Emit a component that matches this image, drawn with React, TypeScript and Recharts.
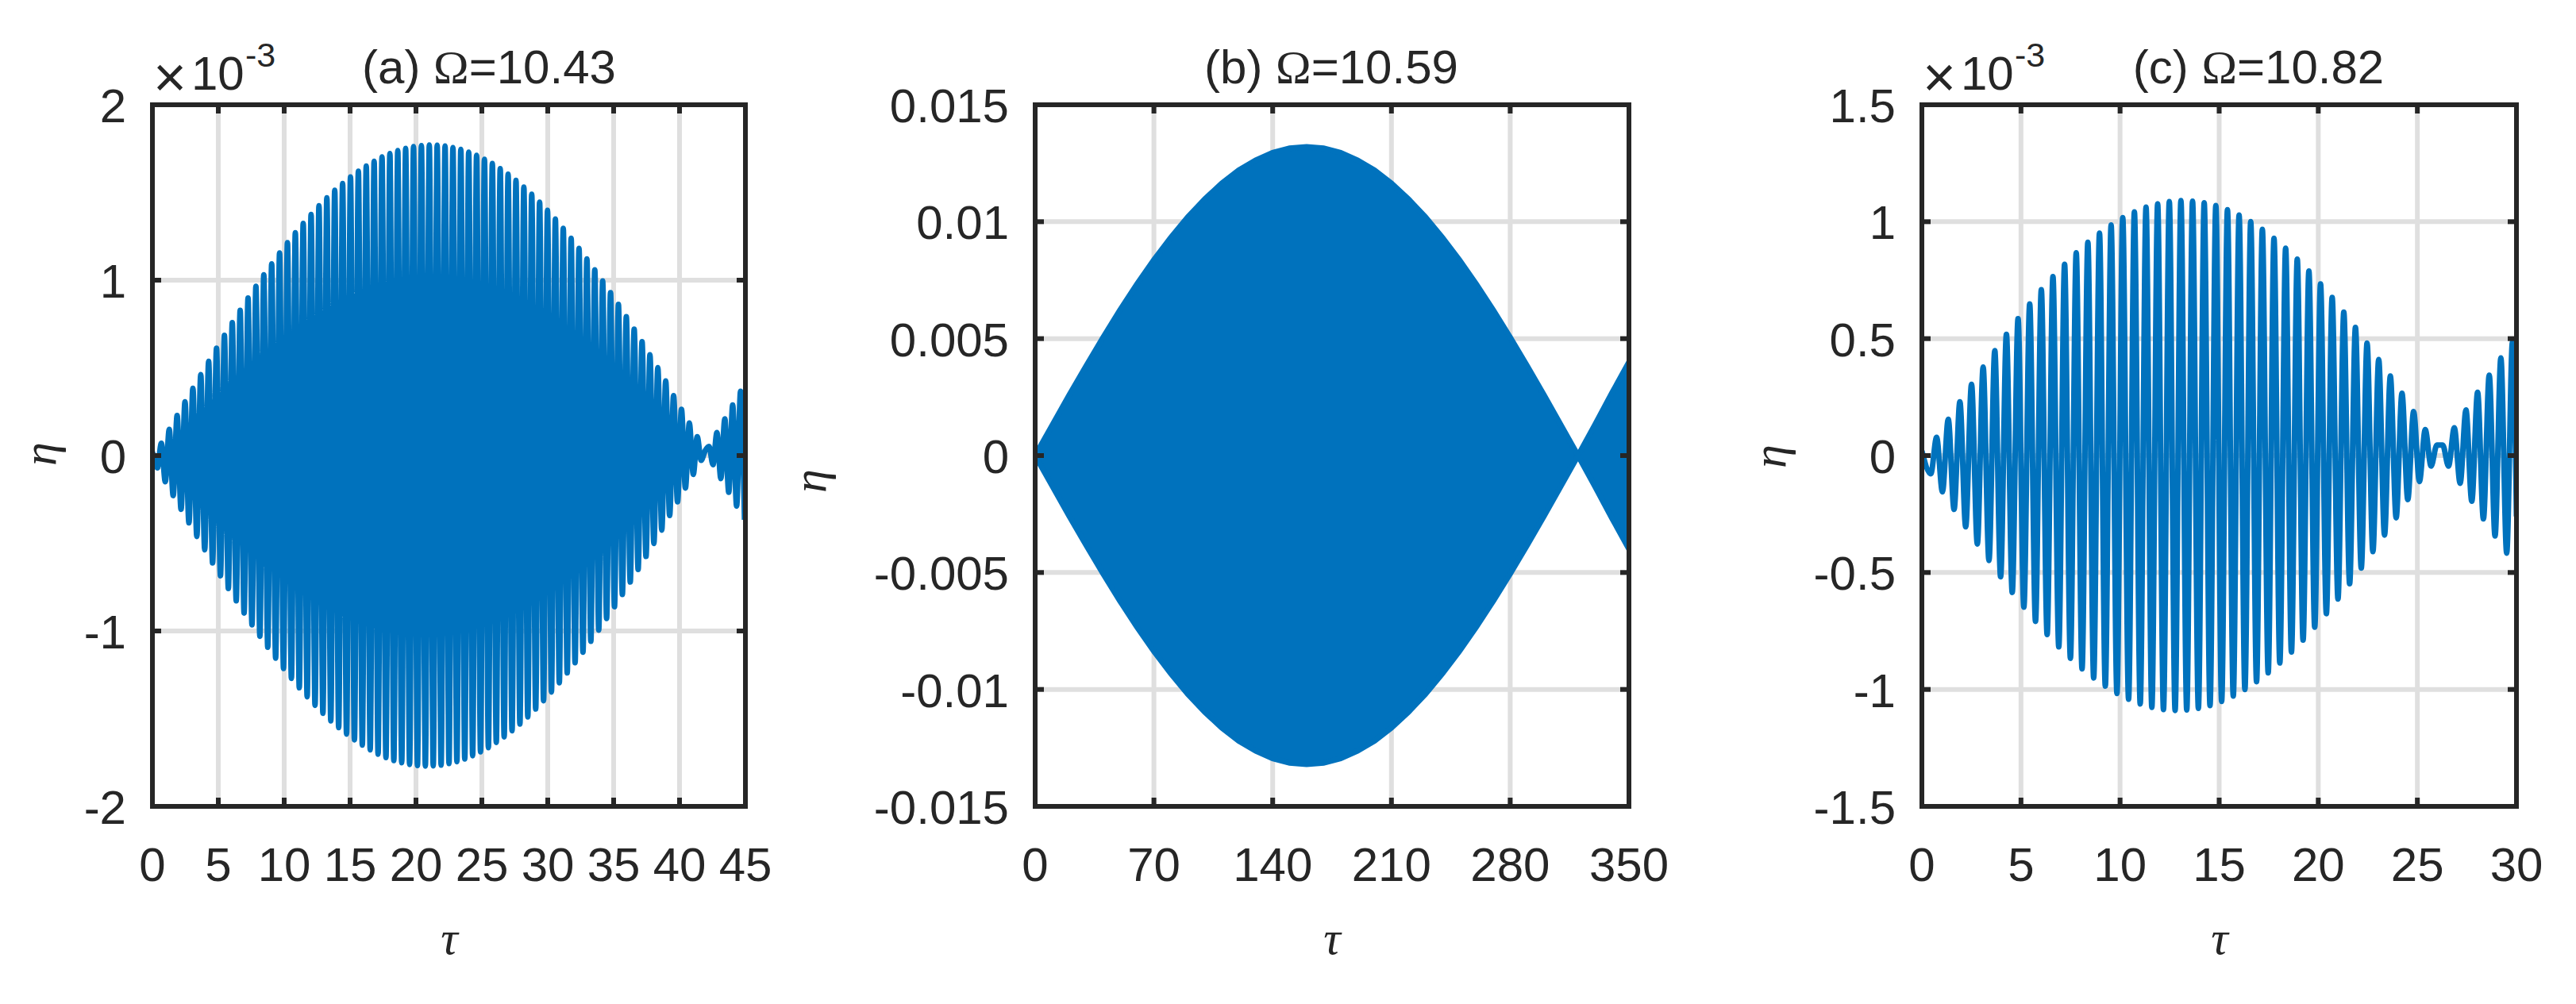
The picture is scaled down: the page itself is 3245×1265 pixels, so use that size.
import React from 'react';
import { ComposedChart, Line, Area, XAxis, YAxis, CartesianGrid } from 'recharts';

// ---------------- data ----------------
// Panel (a)  Omega = 10.43, eta in units of 1e-3
const aXTicks = [0, 5, 10, 15, 20, 25, 30, 35, 40, 45];
const aXLabels = ['0', '5', '10', '15', '20', '25', '30', '35', '40', '45'];
const aYTicks = [-2, -1, 0, 1, 2];
const aYLabels = ['-2', '-1', '0', '1', '2'];
const aStart = { t: 0, v: 0.02 };
const aFirstTrough = 0.38; // tau of first trough
const aHalfPeriod = 0.299; // spacing of successive extrema
// amplitude of each oscillation cycle (trough, then peak); sign flips after the beat node
const aCycleAmp = [
  0.070, 0.149, 0.228, 0.306, 0.384, 0.461, 0.537, 0.612, 0.685, 0.758,
  0.828, 0.898, 0.965, 1.030, 1.093, 1.155, 1.214, 1.270, 1.324, 1.375,
  1.424, 1.469, 1.512, 1.551, 1.588, 1.621, 1.651, 1.678, 1.702, 1.722,
  1.739, 1.751, 1.761, 1.767, 1.770, 1.769, 1.765, 1.756, 1.745, 1.730,
  1.711, 1.689, 1.665, 1.636, 1.604, 1.569, 1.531, 1.490, 1.445, 1.398,
  1.348, 1.295, 1.239, 1.181, 1.121, 1.059, 0.995, 0.929, 0.862, 0.792,
  0.721, 0.649, 0.575, 0.501, 0.425, 0.342, 0.264, 0.185, 0.107, 0.027,
  -0.052, -0.131, -0.209, -0.288, -0.366,
];

// Panel (b)  Omega = 10.59, envelope of the (visually solid) oscillation
const bXTicks = [0, 70, 140, 210, 280, 350];
const bXLabels = ['0', '70', '140', '210', '280', '350'];
const bYTicks = [-0.015, -0.01, -0.005, 0, 0.005, 0.01, 0.015];
const bYLabels = ['-0.015', '-0.01', '-0.005', '0', '0.005', '0.01', '0.015'];
const bTau = [
  0, 10, 20, 30, 40, 50, 60, 70, 80, 90, 100, 110, 120, 130, 140, 150, 160, 170,
  180, 190, 200, 210, 220, 230, 240, 250, 260, 270, 280, 290, 300, 310, 320, 330, 340, 350,
];
const bEnvelope = [
  0, 0.00129, 0.00258, 0.00383, 0.00505, 0.00622, 0.00733, 0.00837, 0.00933, 0.0102,
  0.01097, 0.01164, 0.0122, 0.01263, 0.01295, 0.01314, 0.0132, 0.01314, 0.01295, 0.01263,
  0.0122, 0.01164, 0.01097, 0.0102, 0.00933, 0.00837, 0.00733, 0.00622, 0.00505, 0.00383,
  0.00258, 0.00129, 0, 0.00133, 0.00268, 0.004,
];

// Panel (c)  Omega = 10.82, eta in units of 1e-3
const cXTicks = [0, 5, 10, 15, 20, 25, 30];
const cXLabels = ['0', '5', '10', '15', '20', '25', '30'];
const cYTicks = [-1.5, -1, -0.5, 0, 0.5, 1, 1.5];
const cYLabels = ['-1.5', '-1', '-0.5', '0', '0.5', '1', '1.5'];
const cStart = { t: 0, v: 0.02 };
const cEnd = { t: 30, v: -0.26 };
const cFirstTrough = 0.45;
const cHalfPeriod = 0.2935;
const cCycleAmp = [
  0.078, 0.155, 0.230, 0.305, 0.378, 0.449, 0.518, 0.585, 0.648, 0.709,
  0.765, 0.818, 0.867, 0.912, 0.951, 0.986, 1.017, 1.042, 1.062, 1.077,
  1.086, 1.090, 1.088, 1.081, 1.069, 1.051, 1.028, 1.000, 0.967, 0.929,
  0.887, 0.840, 0.789, 0.734, 0.676, 0.613, 0.548, 0.481, 0.411, 0.340,
  0.266, 0.188, 0.111, 0.045, -0.045, -0.119, -0.195, -0.271, -0.344, -0.417,
  -0.487,
];

// ---------------- build tables ----------------
type Pt = { t: number; v: number };
function buildOscillation(start: Pt, firstTrough: number, half: number, amps: number[], tMax: number, end?: Pt) {
  const rows: Pt[] = [start];
  amps.forEach((a, k) => {
    const t1 = firstTrough + 2 * k * half;
    const t2 = t1 + half;
    if (t1 <= tMax) rows.push({ t: t1, v: -a });
    if (t2 <= tMax) rows.push({ t: t2, v: a });
  });
  if (end) rows.push(end);
  return rows;
}
const aData = buildOscillation(aStart, aFirstTrough, aHalfPeriod, aCycleAmp, 45);
const cData = buildOscillation(cStart, cFirstTrough, cHalfPeriod, cCycleAmp, 30, cEnd);
const bData = bTau.map((t, i) => ({ t, band: [-bEnvelope[i], bEnvelope[i]] }));

// ---------------- style ----------------
const W = 3245;
const H = 1265;
const PLOT_TOP = 132;
const PLOT_BOTTOM = 1016;
const BLUE = '#0072BD';
const AXIS = '#262626';
const GRID = '#dfdfdf';
const FONT = '"Liberation Sans", Arial, Helvetica, sans-serif';
const SERIF = '"Liberation Serif", "Times New Roman", serif';
const FS = 60;

type PanelProps = {
  left: number;
  width: number;
  plotLeft: number;
  plotRight: number;
  xDomain: [number, number];
  xTicks: number[];
  xLabels: string[];
  yDomain: [number, number];
  yTicks: number[];
  yLabels: string[];
  data: any[];
  children: React.ReactNode;
};

function labelFor(ticks: number[], labels: string[], v: number) {
  const i = ticks.findIndex((t) => Math.abs(t - v) < 1e-9);
  return i >= 0 ? labels[i] : String(v);
}

function Panel(p: PanelProps) {
  const rightAxisW = 20;
  const margin = { top: 0, left: 0, bottom: 0, right: p.width - p.plotRight - rightAxisW };
  const axisLine: any = { stroke: AXIS, strokeWidth: 6, strokeLinecap: 'square' };
  const tickLine: any = { stroke: AXIS, strokeWidth: 6 };
  const BottomTick = (props: any) => (
    <text x={props.x} y={PLOT_BOTTOM + 94} textAnchor="middle" fontSize={FS} fontFamily={FONT} fill={AXIS}>
      {labelFor(p.xTicks, p.xLabels, props.payload.value)}
    </text>
  );
  const LeftTick = (props: any) => (
    <text x={p.plotLeft - 33} y={props.y + 22} textAnchor="end" fontSize={FS} fontFamily={FONT} fill={AXIS}>
      {labelFor(p.yTicks, p.yLabels, props.payload.value)}
    </text>
  );
  const Empty = () => <g />;
  return (
    <div style={{ position: 'absolute', left: p.left, top: 0, width: p.width, height: H }}>
      <ComposedChart width={p.width} height={H} data={p.data} margin={margin}>
        <CartesianGrid xAxisId="b" yAxisId="l" stroke={GRID} strokeWidth={6} />
        {p.children}
        <XAxis
          xAxisId="b"
          orientation="bottom"
          type="number"
          dataKey="t"
          domain={p.xDomain}
          ticks={p.xTicks}
          interval={0}
          allowDataOverflow
          height={H - PLOT_BOTTOM}
          axisLine={axisLine}
          tickLine={tickLine}
          tickSize={-11}
          tick={BottomTick}
        />
        <XAxis
          xAxisId="t"
          orientation="top"
          type="number"
          dataKey="t"
          domain={p.xDomain}
          ticks={p.xTicks}
          interval={0}
          allowDataOverflow
          height={PLOT_TOP}
          axisLine={axisLine}
          tickLine={tickLine}
          tickSize={-11}
          tick={Empty}
        />
        <YAxis
          yAxisId="l"
          orientation="left"
          type="number"
          domain={p.yDomain}
          ticks={p.yTicks}
          interval={0}
          allowDataOverflow
          width={p.plotLeft}
          axisLine={axisLine}
          tickLine={tickLine}
          tickSize={-11}
          tick={LeftTick}
        />
        <YAxis
          yAxisId="r"
          orientation="right"
          type="number"
          domain={p.yDomain}
          ticks={p.yTicks}
          interval={0}
          allowDataOverflow
          width={rightAxisW}
          axisLine={axisLine}
          tickLine={tickLine}
          tickSize={-11}
          tick={Empty}
        />
      </ComposedChart>
    </div>
  );
}

function Exponent({ plotLeft }: { plotLeft: number }) {
  return (
    <g fill={AXIS} fontFamily={FONT}>
      <text x={plotLeft + 1} y={122} fontSize={72}>×</text>
      <text x={plotLeft + 49} y={113} fontSize={FS}>10</text>
      <text x={plotLeft + 117} y={84} fontSize={43}>-3</text>
    </g>
  );
}

function Title({ x, tag, omega }: { x: number; tag: string; omega: string }) {
  return (
    <text x={x} y={105} textAnchor="middle" fontSize={FS} fontFamily={FONT} fill={AXIS}>
      <tspan>{tag + ' '}</tspan>
      <tspan fontFamily={SERIF}>Ω</tspan>
      <tspan>{'=' + omega}</tspan>
    </text>
  );
}

function YLabel({ x, y }: { x: number; y: number }) {
  return (
    <text x={x} y={y} transform={`rotate(-90 ${x} ${y})`} textAnchor="middle" fontSize={FS} fontFamily={SERIF} fontStyle="italic" fill={AXIS}>
      η
    </text>
  );
}

function XLabel({ x }: { x: number }) {
  return (
    <text x={x} y={1202} textAnchor="middle" fontSize={FS} fontFamily={SERIF} fontStyle="italic" fill={AXIS}>
      τ
    </text>
  );
}

export default function App() {
  return (
    <div style={{ position: 'absolute', left: 0, top: 0, width: W, height: H, background: '#ffffff', overflow: 'hidden' }}>
      <Panel
        left={0}
        width={1000}
        plotLeft={192}
        plotRight={939}
        xDomain={[0, 45]}
        xTicks={aXTicks}
        xLabels={aXLabels}
        yDomain={[-2, 2]}
        yTicks={aYTicks}
        yLabels={aYLabels}
        data={aData}
      >
        <Line xAxisId="b" yAxisId="l" type="monotone" dataKey="v" stroke={BLUE} strokeWidth={7} dot={false} isAnimationActive={false} strokeLinejoin="round" />
      </Panel>
      <Panel
        left={1000}
        width={1110}
        plotLeft={304}
        plotRight={1052}
        xDomain={[0, 350]}
        xTicks={bXTicks}
        xLabels={bXLabels}
        yDomain={[-0.015, 0.015]}
        yTicks={bYTicks}
        yLabels={bYLabels}
        data={bData}
      >
        <Area xAxisId="b" yAxisId="l" type="linear" dataKey="band" stroke={BLUE} strokeWidth={7} fill={BLUE} fillOpacity={1} isAnimationActive={false} />
      </Panel>
      <Panel
        left={2110}
        width={1135}
        plotLeft={311}
        plotRight={1060}
        xDomain={[0, 30]}
        xTicks={cXTicks}
        xLabels={cXLabels}
        yDomain={[-1.5, 1.5]}
        yTicks={cYTicks}
        yLabels={cYLabels}
        data={cData}
      >
        <Line xAxisId="b" yAxisId="l" type="monotone" dataKey="v" stroke={BLUE} strokeWidth={7} dot={false} isAnimationActive={false} strokeLinejoin="round" />
      </Panel>
      <svg width={W} height={H} style={{ position: 'absolute', left: 0, top: 0, pointerEvents: 'none' }}>
        <Title x={616} tag="(a)" omega="10.43" />
        <Title x={1677} tag="(b)" omega="10.59" />
        <Title x={2845} tag="(c)" omega="10.82" />
        <Exponent plotLeft={192} />
        <Exponent plotLeft={2421} />
        <YLabel x={70} y={572} />
        <YLabel x={1040} y={606} />
        <YLabel x={2249} y={575} />
        <XLabel x={566} />
        <XLabel x={1678} />
        <XLabel x={2796} />
      </svg>
    </div>
  );
}
